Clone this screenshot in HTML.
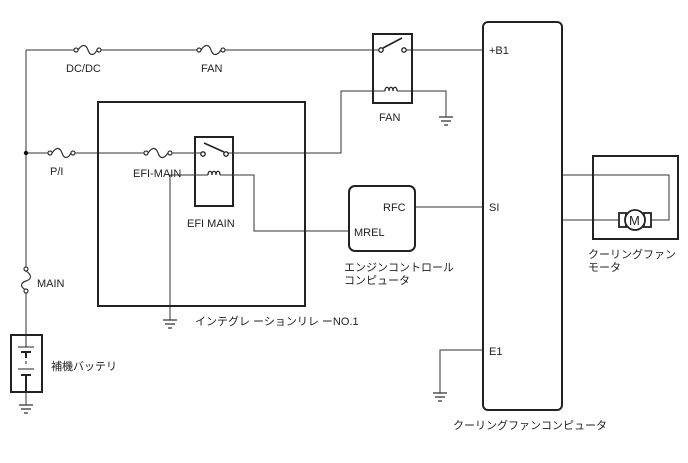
<!DOCTYPE html>
<html><head><meta charset="utf-8"><style>
html,body{margin:0;padding:0;background:#fff}
svg{display:block}
text{font-family:"Liberation Sans","Noto Sans CJK JP",sans-serif;font-size:11px;fill:#222}
</style></head><body>
<svg width="688" height="463" viewBox="0 0 688 463" xmlns="http://www.w3.org/2000/svg">
<g stroke="#333" stroke-width="1" fill="none">
<path d="M26 50H75M100 50H198M225 50H381M404 50H483"/>
<path d="M26 50V268M26 292V335"/>
<path d="M26 153H49M74 153H145M172 153H203M226 153H341V91H381M404 91H446V117"/>
<path d="M170 320V175H206M222 175H254V231H349"/>
<path d="M415 207H483"/>
<path d="M483 350H440V393"/>
<path d="M562 175H669V220H651M619 220H562"/>
<path d="M26 392V405"/>
</g>
<g stroke="#333" stroke-width="1.2" fill="#fff">
<path d="M78 50 C82 44 86 44 88 50 C90 56 94 56 97 50" fill="none"/>
<circle cx="76" cy="50" r="2"/><circle cx="99" cy="50" r="2"/>
<path d="M201 50 C205 44 209 44 211 50 C213 56 217 56 221 50" fill="none"/>
<circle cx="199" cy="50" r="2"/><circle cx="223" cy="50" r="2"/>
<path d="M52 153 C56 147 60 147 62 153 C64 159 68 159 71 153" fill="none"/>
<circle cx="50" cy="153" r="2"/><circle cx="73" cy="153" r="2"/>
<path d="M148 153 C152 147 156 147 158 153 C160 159 164 159 168 153" fill="none"/>
<circle cx="146" cy="153" r="2"/><circle cx="170" cy="153" r="2"/>
<path d="M26 271 C32 275 32 279 26 281 C20 283 20 287 26 290" fill="none"/>
<circle cx="26" cy="269" r="2"/><circle cx="26" cy="291" r="2"/>
</g>
<circle cx="26" cy="153" r="2.2" fill="#111"/>
<g stroke="#222" stroke-width="2" fill="none">
<rect x="373" y="34" width="39" height="69"/>
<rect x="98" y="102" width="207" height="204"/>
<rect x="195" y="137" width="38" height="69" fill="#fff"/>
<rect x="349" y="186" width="66" height="65" rx="6"/>
<rect x="483" y="22" width="79" height="388" rx="5"/>
<rect x="593" y="156" width="85" height="83"/>
<rect x="11" y="335" width="31" height="57"/>
</g>
<g stroke="#333" stroke-width="1" fill="none">
<path d="M172 153H203M226 153H305M170 175H206M222 175H254V231H305"/>
</g>
<g stroke="#222" stroke-width="1.3" fill="#fff">
<circle cx="381" cy="50" r="2.2"/><circle cx="404" cy="50" r="2.2"/>
<path d="M383 48L402 38" fill="none" stroke-width="1.6"/>
<path d="M385 91c0-5 4-5 4 0c0-5 4-5 4 0c0-5 4-5 4 0" fill="none"/>
<circle cx="203" cy="154" r="2.2"/><circle cx="226" cy="154" r="2.2"/>
<path d="M204 143L224 152" fill="none" stroke-width="1.6"/>
<path d="M208 175c0-5 4-5 4 0c0-5 4-5 4 0c0-5 4-5 4 0" fill="none"/>
</g>
<g stroke="#333" stroke-width="1" fill="none">
<path d="M381 91H385M397 91H404M206 175H208M220 175H226"/>
</g>
<g stroke="#333" stroke-width="1.2" fill="none">
<path d="M439 117H453M441 121H451M444 125H448"/>
<path d="M163 320H177M165 324H175M168 328H172"/>
<path d="M433 393H447M435 397H445M438 401H442"/>
<path d="M19 405H33M21 409H31M24 413H28"/>
</g>
<g stroke="#222" fill="none">
<path d="M26 335V347M18 347H34" stroke-width="1"/>
<path d="M21 352H31M26 352V358" stroke-width="2"/>
<path d="M26 361V364" stroke-width="1"/>
<path d="M18 369H34" stroke-width="1"/>
<path d="M21 375H31M26 375V392" stroke-width="2"/>
</g>
<g stroke="#222" stroke-width="1.8" fill="#fff">
<rect x="619" y="213" width="7" height="14"/>
<rect x="644" y="213" width="7" height="14"/>
<circle cx="635" cy="220" r="10"/>
</g>
<text x="629" y="225" style="font-size:13px">M</text>
<text x="66" y="72">DC/DC</text>
<text x="201" y="72">FAN</text>
<text x="379" y="121">FAN</text>
<text x="50" y="175">P/I</text>
<text x="133" y="177">EFI-MAIN</text>
<text x="187" y="227">EFI MAIN</text>
<text x="37" y="287">MAIN</text>
<text x="51" y="370">補機バッテリ</text>
<text x="195" y="325">インテグレ ーションリレ ーNO.1</text>
<text x="383" y="211">RFC</text>
<text x="354" y="236">MREL</text>
<text x="344" y="271">エンジンコントロール</text>
<text x="344" y="284">コンピュータ</text>
<text x="489" y="54">+B1</text>
<text x="489" y="211">SI</text>
<text x="489" y="355">E1</text>
<text x="453" y="429">クーリングファンコンピュータ</text>
<text x="588" y="258">クーリングファン</text>
<text x="588" y="271">モータ</text>
</svg>
</body></html>
